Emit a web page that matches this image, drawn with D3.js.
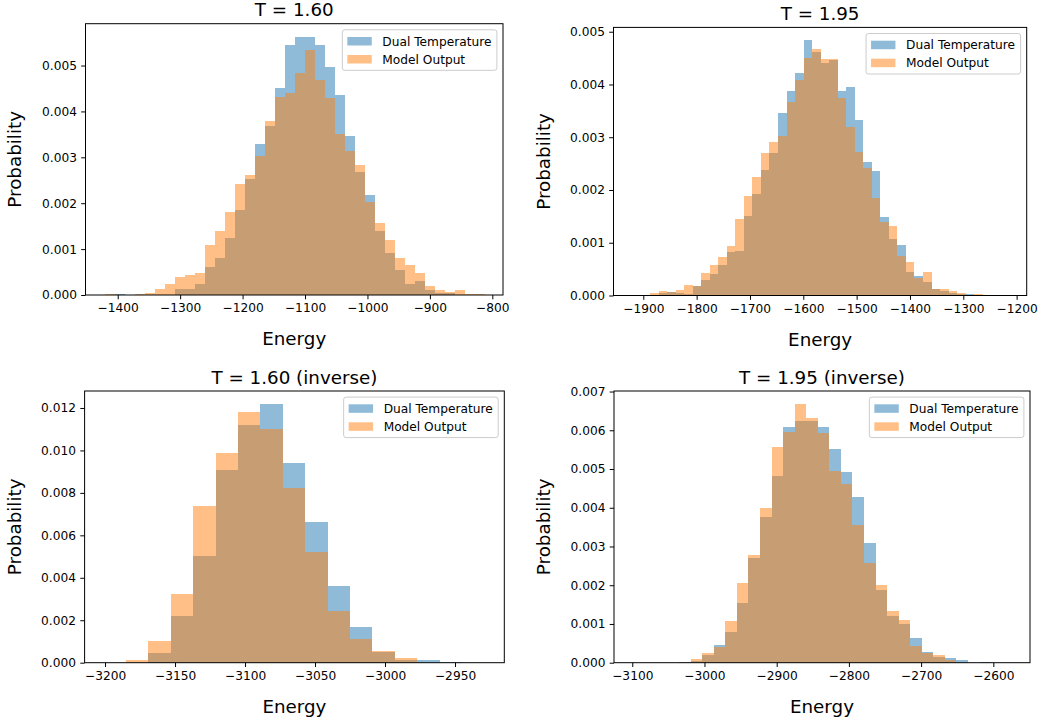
<!DOCTYPE html>
<html><head><meta charset="utf-8">
<script src="https://cdn.jsdelivr.net/npm/d3@7"></script>
<style>
html,body{margin:0;padding:0;background:#fff;}
svg{display:block;font-family:"DejaVu Sans",sans-serif;}
</style></head><body>
<svg id="chart" width="1040" height="726"></svg>
<script>
// ---------------- data ----------------
const seriesNames = ["Dual Temperature", "Model Output"];
const panelTitles = ["T = 1.60", "T = 1.95", "T = 1.60 (inverse)", "T = 1.95 (inverse)"];
const xLabel = "Energy";
const yLabel = "Probability";

// first bin edge (Energy) and bin width per panel
const binStarts = [-1420.3, -1887.5, -3185, -3035.1];
const binWidths = [16, 16, 16, 16];

// probability densities per bin
const t160Dual = [0, 0.000015, 0, 0, 0, 0, 0, 0.00012, 0.00012, 0.00025, 0.0006, 0.0008, 0.00124, 0.00185, 0.00252, 0.00329, 0.00368, 0.00451, 0.00545, 0.00563, 0.00563, 0.00545, 0.00496, 0.00435, 0.00347, 0.00269, 0.00218, 0.0014, 0.00092, 0.00055, 0.00025, 0.00031, 0.00011, 0.00005, 0.00004, 0.00001, 0, 0];
const t160Model = [0.000015, 0, 0, 0.000015, 0.00005, 0.00014, 0.00025, 0.0004, 0.00044, 0.00049, 0.00108, 0.0014, 0.0018, 0.00242, 0.00262, 0.00303, 0.00379, 0.00431, 0.00441, 0.00483, 0.00534, 0.00469, 0.0043, 0.0035, 0.00314, 0.00283, 0.00202, 0.00157, 0.0012, 0.0008, 0.00065, 0.00047, 0.0002, 0.00011, 0.00007, 0.00011, 0.00002, 0.00002];

const t195Dual = [0, 0.000044, 0.000063, 0.000044, 0.000025, 0.00018, 0.00029, 0.0004, 0.00057, 0.00082, 0.00084, 0.0015, 0.00192, 0.00238, 0.0027, 0.00346, 0.00387, 0.00421, 0.00484, 0.00462, 0.00441, 0.00446, 0.00387, 0.00395, 0.00332, 0.00253, 0.00236, 0.00149, 0.00107, 0.00096, 0.00045, 0.00037, 0.00026, 0.00012, 0.000085, 0.00005, 0.00003, 0.00003, 0, 0];
const t195Model = [0.000044, 0.000082, 0.000063, 0.0001, 0.0002, 0.00018, 0.00042, 0.00057, 0.00073, 0.00093, 0.00145, 0.00188, 0.00224, 0.0027, 0.00291, 0.00303, 0.00366, 0.00408, 0.0045, 0.00467, 0.00448, 0.00448, 0.00374, 0.00319, 0.00272, 0.00241, 0.00185, 0.00139, 0.00132, 0.00075, 0.00063, 0.00033, 0.00045, 0.00012, 0.00012, 0.000085, 0.00005, 0.00001, 0.00003, 0.00001];

const t160InvDual = [0, 0.00046, 0.0022, 0.00503, 0.00908, 0.0112, 0.01219, 0.00941, 0.00663, 0.00361, 0.00168, 0.0005, 0.00013, 0.00013, 0.00005];
const t160InvModel = [0.00011, 0.00102, 0.00324, 0.00738, 0.00988, 0.01181, 0.01101, 0.00823, 0.00521, 0.00243, 0.00112, 0.00055, 0.00022, 0, 0];

const t195InvDual = [0.00003, 0.00005, 0.00021, 0.00046, 0.00079, 0.00154, 0.00269, 0.00376, 0.00482, 0.00609, 0.00624, 0.00624, 0.00609, 0.00552, 0.00493, 0.00428, 0.00309, 0.00188, 0.00121, 0.001, 0.00064, 0.00028, 0.00015, 0.00012, 0.00007, 0, 0.00003];
const t195InvModel = [0, 0.0001, 0.00025, 0.0004, 0.00108, 0.00206, 0.00278, 0.004, 0.00557, 0.00596, 0.00668, 0.00632, 0.00593, 0.00495, 0.00462, 0.00356, 0.00258, 0.00201, 0.00134, 0.0011, 0.00043, 0.00025, 0.0002, 0.00007, 0, 0, 0];

// axis limits (Energy) and tick values
const xLimits = [[-1451.6, -782.9], [-1955.9, -1181.1], [-3214.6, -2914.8], [-3125.3, -2549.2]];
const xTickValues = [
  [-1400, -1300, -1200, -1100, -1000, -900, -800],
  [-1900, -1800, -1700, -1600, -1500, -1400, -1300, -1200],
  [-3200, -3150, -3100, -3050, -3000, -2950],
  [-3100, -3000, -2900, -2800, -2700, -2600]
];
const yTickValues = [
  [0, 0.001, 0.002, 0.003, 0.004, 0.005],
  [0, 0.001, 0.002, 0.003, 0.004, 0.005],
  [0, 0.002, 0.004, 0.006, 0.008, 0.010, 0.012],
  [0, 0.001, 0.002, 0.003, 0.004, 0.005, 0.006, 0.007]
];

const panelSeries = [
  [t160Dual, t160Model],
  [t195Dual, t195Model],
  [t160InvDual, t160InvModel],
  [t195InvDual, t195InvModel]
];

// ---------------- layout / style ----------------
const boxes = [
  {l: 85.5, r: 503,    t: 23.7, b: 295,   ylabX: 21},
  {l: 613.5, r: 1026.7, t: 27.4, b: 295.5, ylabX: 550},
  {l: 84.6, r: 504.3,  t: 391,  b: 662.7, ylabX: 21},
  {l: 614,  r: 1030,   t: 391,  b: 662.7, ylabX: 550}
];
const colors = ["#1f77b4", "#ff7f0e"];
const barOpacity = 0.5;
const smallFont = 12.2, bigFont = 18.3;
const tickLen = 4.3, tickPad = 4.3;

const svg = d3.select("#chart");

panelSeries.forEach((series, p) => {
  const bx = boxes[p];
  const g = svg.append("g");
  const x = d3.scaleLinear().domain(xLimits[p]).range([bx.l, bx.r]);
  const ymax = 1.05 * d3.max(series.flat());
  const y = d3.scaleLinear().domain([0, ymax]).range([bx.b, bx.t]);

  const clipId = "clip" + p;
  svg.append("clipPath").attr("id", clipId)
    .append("rect").attr("x", bx.l).attr("y", bx.t)
    .attr("width", bx.r - bx.l).attr("height", bx.b - bx.t);

  series.forEach((vals, s) => {
    const bins = vals.map((v, i) => ({
      x0: binStarts[p] + i * binWidths[p],
      x1: binStarts[p] + (i + 1) * binWidths[p],
      v: v
    })).filter(d => d.v > 0);
    g.append("g").attr("clip-path", `url(#${clipId})`)
      .selectAll("rect").data(bins).join("rect")
      .attr("x", d => x(d.x0))
      .attr("width", d => x(d.x1) - x(d.x0))
      .attr("y", d => y(d.v))
      .attr("height", d => y(0) - y(d.v))
      .attr("fill", colors[s])
      .attr("fill-opacity", barOpacity)
      .attr("shape-rendering", "crispEdges");
  });

  // spines
  g.append("rect")
    .attr("x", bx.l).attr("y", bx.t)
    .attr("width", bx.r - bx.l).attr("height", bx.b - bx.t)
    .attr("fill", "none").attr("stroke", "#000").attr("stroke-width", 1);

  // axes
  const xAxis = d3.axisBottom(x).tickValues(xTickValues[p])
    .tickSize(tickLen).tickPadding(tickPad).tickFormat(d3.format("d"));
  const yAxis = d3.axisLeft(y).tickValues(yTickValues[p])
    .tickSize(tickLen).tickPadding(tickPad).tickFormat(d3.format(".3f"));
  const gx = g.append("g").attr("transform", `translate(0,${bx.b})`).call(xAxis);
  const gy = g.append("g").attr("transform", `translate(${bx.l},0)`).call(yAxis);
  [gx, gy].forEach(a => {
    a.attr("font-size", null).attr("font-family", null);
    a.select(".domain").remove();
    a.selectAll(".tick line").attr("stroke", "#000").attr("stroke-width", 1);
    a.selectAll(".tick text").attr("fill", "#000").style("font-size", smallFont + "px");
  });

  // title
  g.append("text")
    .attr("x", (bx.l + bx.r) / 2).attr("y", bx.t - 7.3)
    .attr("text-anchor", "middle").style("font-size", bigFont + "px")
    .attr("fill", "#000").text(panelTitles[p]);

  // x label
  g.append("text")
    .attr("x", (bx.l + bx.r) / 2).attr("y", bx.b + 50)
    .attr("text-anchor", "middle").style("font-size", bigFont + "px")
    .attr("fill", "#000").text(xLabel);

  // y label
  g.append("text")
    .attr("transform", `translate(${bx.ylabX},${(bx.t + bx.b) / 2}) rotate(-90)`)
    .attr("text-anchor", "middle").style("font-size", bigFont + "px")
    .attr("fill", "#000").text(yLabel);

  // legend
  const lg = g.append("g");
  const frame = lg.append("rect");
  const texts = seriesNames.map((name, s) => lg.append("text")
    .style("font-size", smallFont + "px").attr("fill", "#000").text(name));
  const tw = d3.max(texts, t => t.node().getComputedTextLength());
  const w = 40 + tw + 5.5, h = 40.5;
  const lx = bx.r - 6.1 - w, ly = bx.t + 6.1;
  frame.attr("x", lx).attr("y", ly).attr("width", w).attr("height", h)
    .attr("rx", 2.5).attr("fill", "#fff").attr("fill-opacity", 0.8)
    .attr("stroke", "#cccccc").attr("stroke-width", 1);
  seriesNames.forEach((name, s) => {
    lg.insert("rect", "text")
      .attr("x", lx + 5).attr("y", ly + 7.2 + s * 18)
      .attr("width", 24.4).attr("height", 8.5)
      .attr("fill", colors[s]).attr("fill-opacity", barOpacity);
    texts[s].attr("x", lx + 40).attr("y", ly + 15.8 + s * 18);
  });
});
</script>
</body></html>
